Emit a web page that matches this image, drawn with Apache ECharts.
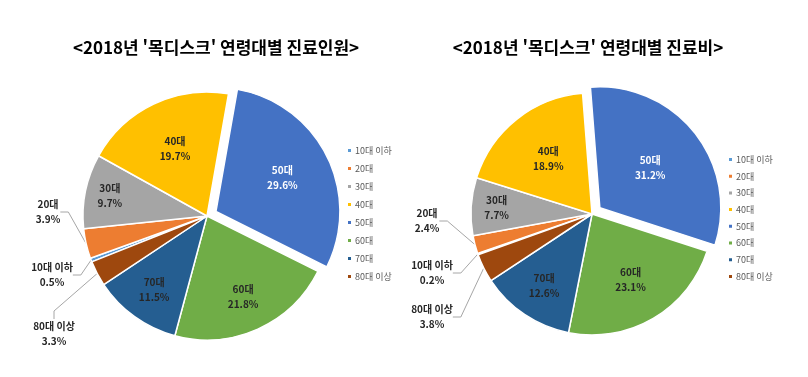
<!DOCTYPE html>
<html lang="ko">
<head>
<meta charset="utf-8">
<title>2018년 목디스크 연령대별 진료인원 · 진료비</title>
<script src="https://cdn.jsdelivr.net/npm/echarts@6/dist/echarts.min.js"></script>
<style>
    html, body { margin: 0; padding: 0; background: #fff; }
    #chart { width: 808px; height: 377px; }
</style>
</head>
<body>
<div id="chart"></div>
<script>
    // 연령대 구분
    let ageGroups = ['10대 이하', '20대', '30대', '40대', '50대', '60대', '70대', '80대 이상'];
    // 진료인원 비율(%)
    let patientShare = [0.5, 3.9, 9.7, 19.7, 29.6, 21.8, 11.5, 3.3];
    // 진료비 비율(%)
    let costShare = [0.2, 2.4, 7.7, 18.9, 31.2, 23.1, 12.6, 3.8];
    let chartTitles = ["<2018년 '목디스크' 연령대별 진료인원>", "<2018년 '목디스크' 연령대별 진료비>"];

    let ageColors = ['#5B9BD5', '#ED7D31', '#A5A5A5', '#FFC000', '#4472C4', '#70AD47', '#255E91', '#9E480E'];
    let fontName = '"Noto Sans CJK KR", "Noto Sans", sans-serif';
    let explodedGroup = '50대';
    let outsideGroups = ['10대 이하', '20대', '80대 이상'];

    // pie placement + where the small-slice labels sit (like excel's manual label moves)
    let leftPie = {
        center: [207, 216], radius: 124, startAngle: -158.3,
        labelFrac: {'30대': 0.8, '40대': 0.6, '50대': 0.6, '60대': 0.71, '70대': 0.73},
        outside: {'20대': [48, 212], '10대 이하': [52, 275], '80대 이상': [54, 334]}
    };
    let rightPie = {
        center: [592, 214], radius: 121, startAngle: -160.3,
        labelFrac: {'30대': 0.79, '40대': 0.58, '50대': 0.53, '60대': 0.63, '70대': 0.71},
        outside: {'20대': [427, 221], '10대 이하': [432, 273], '80대 이상': [432, 317]}
    };

    function buildData(values) {
        let items = [];
        for (let i = 0; i < ageGroups.length; i++) {
            let name = ageGroups[i];
            let item = {name: name, value: values[i], itemStyle: {color: ageColors[i]}};
            if (name == explodedGroup) {
                item.selected = true;
                item.label = {color: '#FFFFFF'};
            }
            if (outsideGroups.indexOf(name) >= 0) {
                item.label = {position: 'outside'};
                item.labelLine = {show: true};
            }
            items.push(item);
        }
        return items;
    }

    function makeLabelLayout(values, pie) {
        let total = values.reduce(function (a, b) { return a + b; }, 0);
        return function (params) {
            let name = ageGroups[params.dataIndex];
            if (pie.outside[name]) {
                return {x: pie.outside[name][0], y: pie.outside[name][1], align: 'center', verticalAlign: 'middle'};
            }
            let cum = 0;
            for (let i = 0; i < params.dataIndex; i++) {
                cum += values[i];
            }
            let mid = (pie.startAngle - (cum + values[params.dataIndex] / 2) / total * 360) * Math.PI / 180;
            let shift = (pie.labelFrac[name] - 0.5) * pie.radius - 3;
            return {dx: shift * Math.cos(mid), dy: -shift * Math.sin(mid)};
        };
    }

    function buildSeries(values, pie) {
        return {
            type: 'pie',
            center: pie.center,
            radius: pie.radius,
            startAngle: pie.startAngle,
            clockwise: true,
            avoidLabelOverlap: false,
            selectedMode: 'single',
            selectedOffset: 10,
            animation: false,
            itemStyle: {borderColor: '#FFFFFF', borderWidth: 1.5},
            label: {
                position: 'inside',
                formatter: '{b}\n{c}%',
                fontFamily: fontName,
                fontWeight: 'bold',
                fontSize: 10,
                lineHeight: 15,
                color: '#262626'
            },
            labelLine: {
                show: true, length: 8, length2: 8,
                lineStyle: {color: '#A6A6A6', width: 1}
            },
            emphasis: {disabled: true},
            labelLayout: makeLabelLayout(values, pie),
            data: buildData(values)
        };
    }

    function buildLegend(left, top, gap) {
        return {
            data: ageGroups,
            orient: 'vertical',
            left: left,
            top: top,
            icon: 'rect',
            itemWidth: 5,
            itemHeight: 5,
            itemGap: gap,
            selectedMode: false,
            textStyle: {fontFamily: fontName, fontSize: 9, color: '#595959', padding: [0, 0, 0, -2]}
        };
    }

    let chart = echarts.init(document.getElementById('chart'));
    chart.setOption({
        backgroundColor: '#FFFFFF',
        animation: false,
        title: [
            {text: chartTitles[0], left: 216, top: 39, textAlign: 'center', padding: 0,
                textStyle: {fontFamily: fontName, fontSize: 17, fontWeight: 'bold', color: '#000000'}},
            {text: chartTitles[1], left: 588, top: 39, textAlign: 'center', padding: 0,
                textStyle: {fontFamily: fontName, fontSize: 17, fontWeight: 'bold', color: '#000000'}}
        ],
        legend: [buildLegend(341, 141, 9), buildLegend(722, 150, 7.7)],
        series: [buildSeries(patientShare, leftPie), buildSeries(costShare, rightPie)]
    });
</script>
</body>
</html>
